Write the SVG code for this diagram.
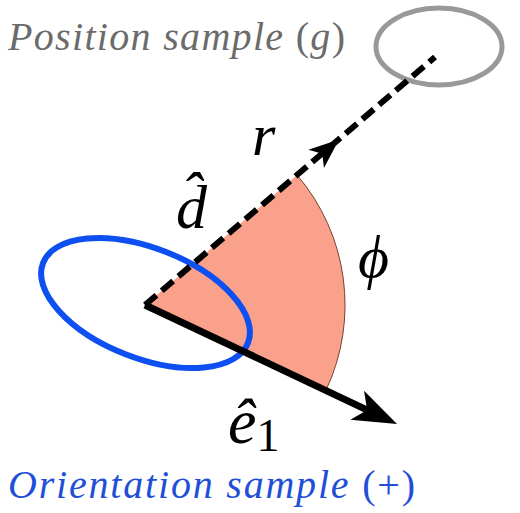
<svg xmlns="http://www.w3.org/2000/svg" width="520" height="513" viewBox="0 0 520 513" font-family="'Liberation Serif', 'Times New Roman', serif">
<rect width="520" height="513" fill="#fff"/>
<g id="wedge">
<path d="M145,305 L297.1,175.1 A200,200 0 0 1 326,390.2 Z" fill="#f9a18a"/>
<path d="M297.1,175.1 A200,200 0 0 1 326,390.2" fill="none" stroke="#7a4030" stroke-width="1"/>
</g>
<g id="position-sample">
<ellipse cx="439" cy="46.5" rx="63" ry="38.5" fill="none" stroke="#999" stroke-width="5"/>
</g>
<g id="orientation-sample">
<ellipse cx="145.5" cy="303" rx="110" ry="55" transform="rotate(21.3 145.5 303)" fill="none" stroke="#0d4ff0" stroke-width="6"/>
</g>
<g id="connectors">
<line x1="145" y1="305" x2="435" y2="57" stroke="#000" stroke-width="6" stroke-dasharray="15 7"/>
<path d="M0,0 L-30,-12 L-22,0 L-30,12 Z" fill="#000" transform="translate(339,139.4) rotate(-40.5)"/>
<line x1="145" y1="305" x2="370" y2="411.3" stroke="#000" stroke-width="7"/>
<path d="M0,0 L-44,-16 L-33,0 L-44,16 Z" fill="#000" transform="translate(397,424) rotate(25.28)"/>
</g>
<g id="titles" font-style="italic">
<text x="8" y="50" font-size="40" fill="#6b6b6b" textLength="337" lengthAdjust="spacing">Position sample <tspan font-style="normal">(</tspan>g<tspan font-style="normal">)</tspan></text>
<text x="8" y="498" font-size="40" fill="#1f4fd8" textLength="407" lengthAdjust="spacing">Orientation sample <tspan font-style="normal">(+)</tspan></text>
</g>
<g id="labels" font-style="italic">
<text x="252" y="155" font-size="60">r</text>
<text x="176" y="228" font-size="62">d̂</text>
<text x="358" y="277" font-size="60">ϕ</text>
<text x="228" y="443" font-size="64">ê<tspan font-style="normal" font-size="46" dy="8">1</tspan></text>
</g>
</svg>
